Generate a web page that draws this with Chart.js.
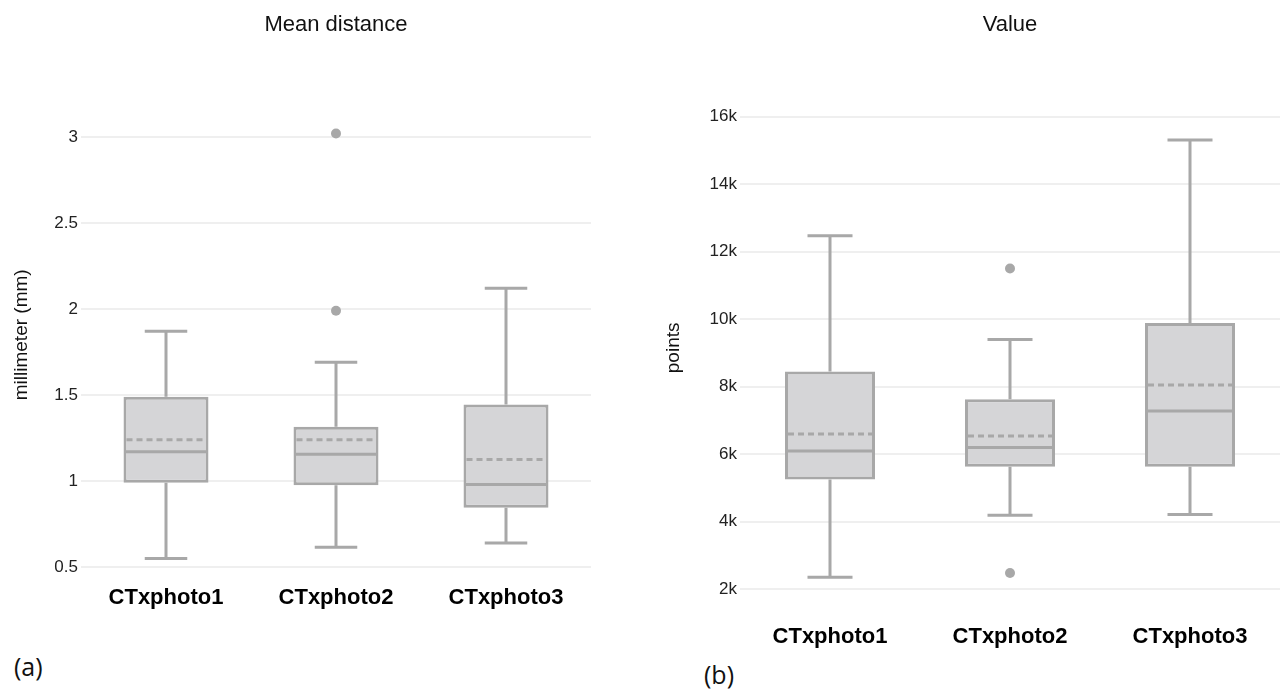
<!DOCTYPE html>
<html>
<head>
<meta charset="utf-8">
<script src="https://cdn.jsdelivr.net/npm/chart.js@4/dist/chart.umd.min.js"></script>
<style>
  html, body { margin: 0; padding: 0; background: #fff; overflow: hidden; }
  body { width: 1282px; height: 693px; position: relative; font-family: 'Liberation Sans', Arial, sans-serif; }
  .box { position: absolute; }
  .tag { position: absolute; font-family: 'Open Sans', sans-serif; font-size: 25px; line-height: 30px; color: #111; }
</style>
</head>
<body>
<div class="box" style="left:0;top:0;width:600px;height:617px;"><canvas id="chartA"></canvas></div>
<div class="box" style="left:640px;top:0;width:645px;height:656px;"><canvas id="chartB"></canvas></div>
<div class="tag" style="left:14px;top:651px;">(a)</div>
<div class="tag" style="left:704px;top:659px;">(b)</div>
<script>
// 카테고리
const categories = ['CTxphoto1', 'CTxphoto2', 'CTxphoto3'];

// (a) Mean distance (mm)
const mdMin = [0.55, 0.615, 0.64];
const mdQ1 = [0.99, 0.975, 0.845];
const mdMedian = [1.17, 1.155, 0.98];
const mdMean = [1.24, 1.24, 1.125];
const mdQ3 = [1.49, 1.315, 1.445];
const mdMax = [1.87, 1.69, 2.12];
const mdOutliers = [[], [1.99, 3.02], []];
const mdTicks = [0.5, 1, 1.5, 2, 2.5, 3];

// (b) Value (points)
const ptMin = [2350, 4190, 4210];
const ptQ1 = [5250, 5630, 5630];
const ptMedian = [6090, 6200, 7280];
const ptMean = [6600, 6540, 8050];
const ptQ3 = [8450, 7630, 9890];
const ptMax = [12470, 9400, 15310];
const ptOutliers = [[], [11500, 2480], []];
const ptTicks = [2000, 4000, 6000, 8000, 10000, 12000, 14000, 16000];

const BOX_FILL = '#d5d5d7';
const BOX_LINE = '#a8a8a8';
const GRID = '#efefef';

// 수염, 중앙값, 평균 그리기
const boxPlotExtras = {
  id: 'boxPlotExtras',
  afterDatasetsDraw(chart, args, opts) {
    const { ctx } = chart;
    const x = chart.scales.x;
    const y = chart.scales.y;
    const half = (x.getPixelForValue(1) - x.getPixelForValue(0)) * 0.25;
    ctx.save();
    ctx.strokeStyle = BOX_LINE;
    ctx.lineWidth = 3;
    opts.min.forEach((v, i) => {
      const cx = x.getPixelForValue(i);
      // 아래 수염
      ctx.beginPath();
      ctx.moveTo(cx, y.getPixelForValue(opts.q1[i]));
      ctx.lineTo(cx, y.getPixelForValue(v));
      ctx.moveTo(cx - half / 2, y.getPixelForValue(v));
      ctx.lineTo(cx + half / 2, y.getPixelForValue(v));
      // 위 수염
      ctx.moveTo(cx, y.getPixelForValue(opts.q3[i]));
      ctx.lineTo(cx, y.getPixelForValue(opts.max[i]));
      ctx.moveTo(cx - half / 2, y.getPixelForValue(opts.max[i]));
      ctx.lineTo(cx + half / 2, y.getPixelForValue(opts.max[i]));
      // 중앙값
      ctx.moveTo(cx - half + 1.5, y.getPixelForValue(opts.median[i]));
      ctx.lineTo(cx + half - 1.5, y.getPixelForValue(opts.median[i]));
      ctx.stroke();
      // 평균 (점선)
      ctx.save();
      ctx.setLineDash([6, 4]);
      ctx.beginPath();
      ctx.moveTo(cx - half + 3, y.getPixelForValue(opts.mean[i]));
      ctx.lineTo(cx + half - 3, y.getPixelForValue(opts.mean[i]));
      ctx.stroke();
      ctx.restore();
    });
    ctx.restore();
  },
};

function outlierPoints(list) {
  const pts = [];
  list.forEach((vals, i) => vals.forEach((v) => pts.push({ x: categories[i], y: v })));
  return pts;
}

function makeChart(id, cfg) {
  return new Chart(document.getElementById(id), {
    type: 'bar',
    plugins: [boxPlotExtras],
    data: {
      labels: categories,
      datasets: [
        {
          type: 'line',
          data: outlierPoints(cfg.outliers),
          showLine: false,
          pointRadius: 5,
          pointBackgroundColor: BOX_LINE,
          pointBorderWidth: 0,
          clip: false,
        },
        {
          data: cfg.q1.map((v, i) => [v, cfg.q3[i]]),
          backgroundColor: BOX_FILL,
          borderColor: BOX_LINE,
          borderWidth: 3,
          borderSkipped: false,
          barPercentage: 0.5,
          categoryPercentage: 1.0,
        },
      ],
    },
    options: {
      responsive: true,
      maintainAspectRatio: false,
      animation: false,
      layout: { padding: { left: cfg.padLeft, right: cfg.padRight, top: 0, bottom: 0 } },
      plugins: {
        legend: { display: false },
        tooltip: { enabled: false },
        boxPlotExtras: { min: cfg.min, q1: cfg.q1, median: cfg.median, mean: cfg.mean, q3: cfg.q3, max: cfg.max },
        title: {
          display: true,
          text: cfg.title,
          fullSize: false,
          color: '#111',
          font: { family: 'Liberation Sans', size: 22, weight: 'normal' },
          padding: { top: 12, bottom: cfg.titleGap },
        },
      },
      scales: {
        x: {
          grid: { display: false },
          border: { display: false },
          ticks: {
            color: '#000',
            padding: 10,
            font: { family: 'Liberation Sans', size: 22, weight: 'bold' },
          },
          afterFit: (s) => { s.height = 50; },
        },
        y: {
          min: cfg.yMin,
          max: cfg.yMax,
          afterBuildTicks: (s) => { s.ticks = cfg.ticks.map((v) => ({ value: v })); },
          grid: { color: GRID, lineWidth: 2, drawTicks: false },
          border: { display: false },
          ticks: {
            color: '#222',
            padding: 3,
            font: { family: 'Liberation Sans', size: 17 },
            callback: cfg.tickFmt,
          },
          title: {
            display: true,
            text: cfg.yTitle,
            color: '#111',
            padding: 0,
            font: { family: 'Liberation Sans', size: 19 },
          },
          afterFit: (s) => { s.width = cfg.axisWidth; },
        },
      },
    },
  });
}

makeChart('chartA', {
  title: 'Mean distance',
  yTitle: 'millimeter (mm)',
  min: mdMin, q1: mdQ1, median: mdMedian, mean: mdMean, q3: mdQ3, max: mdMax,
  outliers: mdOutliers,
  ticks: mdTicks,
  yMin: 0.5, yMax: 3.2,
  tickFmt: (v) => String(v),
  padLeft: 10, padRight: 9, axisWidth: 71, titleGap: 64.2,
});

makeChart('chartB', {
  title: 'Value',
  yTitle: 'points',
  min: ptMin, q1: ptQ1, median: ptMedian, mean: ptMean, q3: ptQ3, max: ptMax,
  outliers: ptOutliers,
  ticks: ptTicks,
  yMin: 1500, yMax: 16800,
  tickFmt: (v) => (v / 1000) + 'k',
  padLeft: 22, padRight: 0, axisWidth: 78, titleGap: 51.3,
});
</script>
</body>
</html>
